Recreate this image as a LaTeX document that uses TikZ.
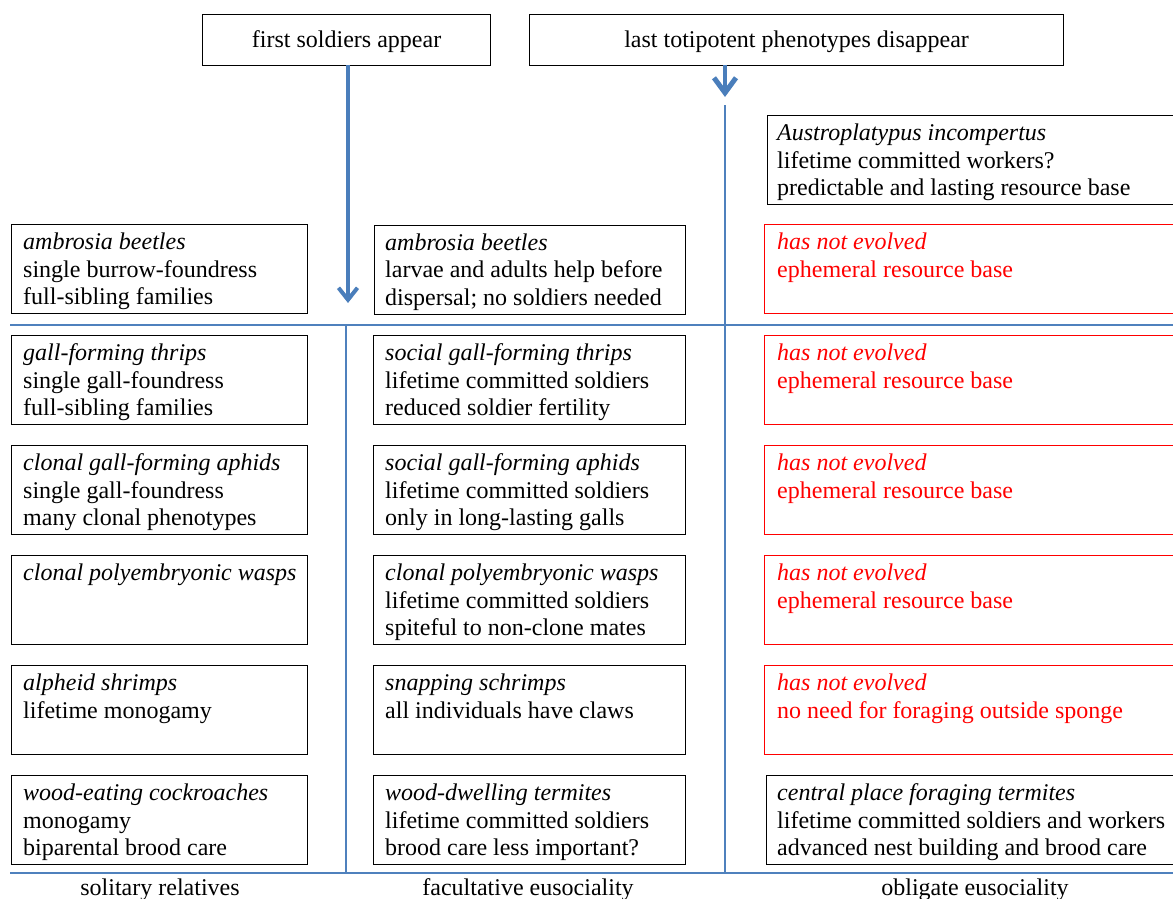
\documentclass[tikz,border=0pt]{standalone}
\usepackage{fontspec}
\setmainfont{Liberation Serif}
\usetikzlibrary{arrows.meta}
\definecolor{ablue}{HTML}{4A7EBB}
\definecolor{lblue}{HTML}{4F81BD}
\begin{document}
\begin{tikzpicture}[x=1pt,y=-1pt,
  bx/.style={draw=black, line width=1.2pt, anchor=north west, inner sep=0pt, minimum height=89pt},
  rbx/.style={bx, draw=red},
  topbx/.style={draw=black, line width=1.2pt, anchor=north west, inner sep=0pt, minimum height=51pt},
  txt/.style={anchor=north west, align=left, inner sep=0pt, font=\fontsize{24}{27.6}\selectfont},
  rtxt/.style={txt, text=red},
  ttxt/.style={inner sep=0pt, font=\fontsize{24}{27.6}\selectfont},
  thin/.style={draw=lblue, line width=1.2pt},
  bigarrow/.style={draw=ablue, line width=3.5pt, -{Straight Barb[length=12pt,width=19pt,line width=4pt]}},
  bigarrowb/.style={draw=ablue, line width=4pt, -{Straight Barb[length=15pt,width=22pt,line width=5pt]}}
]
\useasboundingbox (0,0) rectangle (1173,899);
\clip (0,0) rectangle (1173,899);

% top boxes
\node[topbx, minimum width=288pt] (top1) at (202,14) {};
\node[ttxt] (top1t) at ([yshift=-2pt]top1.center) {first soldiers appear};
\node[topbx, minimum width=534pt] (top2) at (529,14) {};
\node[ttxt] (top2t) at ([yshift=-2pt]top2.center) {last totipotent phenotypes disappear};

% arrows and lines
\coordinate (a1) at (348,303);
\coordinate (a1s) at (348,65);
\coordinate (a2s) at (725,65);
\coordinate (a2) at (725,97);
\coordinate (v2t) at (725,105);
\coordinate (v2b) at (725,873);
\coordinate (v1t) at (346,325);
\coordinate (v1b) at (346,873);
\coordinate (h1l) at (10,325);
\coordinate (h1r) at (1173,325);
\coordinate (h2l) at (10,873);
\coordinate (h2r) at (1173,873);

\draw[bigarrow] (a1s) -- (a1);
\draw[bigarrowb] (a2s) -- (a2);
\draw[thin] (v2t) -- (v2b);
\draw[thin] (v1t) -- (v1b);
\draw[thin] (h1l) -- (h1r);
\draw[thin, line width=2pt] (h2l) -- (h2r);

% Austroplatypus
\node[bx, minimum width=420pt] (aus) at (767,115) {};
\node[txt] (aust) at ([shift={(10,6)}]aus.north west) {\strut\textit{Austroplatypus incompertus}\\lifetime committed workers?\\predictable and lasting resource base};

% row 0
\node[bx, minimum width=296pt] (c1r0) at (11,224) {};
\node[txt] (c1r0t) at ([shift={(12,6)}]c1r0.north west) {\strut\textit{ambrosia beetles}\\single burrow-foundress\\full-sibling families};
\node[bx, minimum width=311pt] (c2r0) at (374,225) {};
\node[txt] (c2r0t) at ([shift={(11,5.5)}]c2r0.north west) {\strut\textit{ambrosia beetles}\\larvae and adults help before\\dispersal; no soldiers needed};
\node[rbx, minimum width=420pt] (c3r0) at (764,224) {};
\node[rtxt] (c3r0t) at ([shift={(13,6)}]c3r0.north west) {\strut\textit{has not evolved}\\ephemeral resource base};

% row 1
\node[bx, minimum width=296pt] (c1r1) at (11,335) {};
\node[txt] (c1r1t) at ([shift={(12,6)}]c1r1.north west) {\strut\textit{gall-forming thrips}\\single gall-foundress\\full-sibling families};
\node[bx, minimum width=312pt] (c2r1) at (373,335) {};
\node[txt] (c2r1t) at ([shift={(12,6)}]c2r1.north west) {\strut\textit{social gall-forming thrips}\\lifetime committed soldiers\\reduced soldier fertility};
\node[rbx, minimum width=420pt] (c3r1) at (764,335) {};
\node[rtxt] (c3r1t) at ([shift={(13,6)}]c3r1.north west) {\strut\textit{has not evolved}\\ephemeral resource base};

% row 2
\node[bx, minimum width=296pt] (c1r2) at (11,445) {};
\node[txt] (c1r2t) at ([shift={(12,6)}]c1r2.north west) {\strut\textit{clonal gall-forming aphids}\\single gall-foundress\\many clonal phenotypes};
\node[bx, minimum width=312pt] (c2r2) at (373,445) {};
\node[txt] (c2r2t) at ([shift={(12,6)}]c2r2.north west) {\strut\textit{social gall-forming aphids}\\lifetime committed soldiers\\only in long-lasting galls};
\node[rbx, minimum width=420pt] (c3r2) at (764,445) {};
\node[rtxt] (c3r2t) at ([shift={(13,6)}]c3r2.north west) {\strut\textit{has not evolved}\\ephemeral resource base};

% row 3
\node[bx, minimum width=296pt] (c1r3) at (11,555) {};
\node[txt] (c1r3t) at ([shift={(12,6)}]c1r3.north west) {\strut\textit{clonal polyembryonic wasps}};
\node[bx, minimum width=312pt] (c2r3) at (373,555) {};
\node[txt] (c2r3t) at ([shift={(12,6)}]c2r3.north west) {\strut\textit{clonal polyembryonic wasps}\\lifetime committed soldiers\\spiteful to non-clone mates};
\node[rbx, minimum width=420pt] (c3r3) at (764,555) {};
\node[rtxt] (c3r3t) at ([shift={(13,6)}]c3r3.north west) {\strut\textit{has not evolved}\\ephemeral resource base};

% row 4
\node[bx, minimum width=296pt] (c1r4) at (11,665) {};
\node[txt] (c1r4t) at ([shift={(12,6)}]c1r4.north west) {\strut\textit{alpheid shrimps}\\lifetime monogamy};
\node[bx, minimum width=312pt] (c2r4) at (373,665) {};
\node[txt] (c2r4t) at ([shift={(12,6)}]c2r4.north west) {\strut\textit{snapping schrimps}\\all individuals have claws};
\node[rbx, minimum width=420pt] (c3r4) at (764,665) {};
\node[rtxt] (c3r4t) at ([shift={(13,6)}]c3r4.north west) {\strut\textit{has not evolved}\\no need for foraging outside sponge};

% row 5
\node[bx, minimum width=296pt] (c1r5) at (11,775) {};
\node[txt] (c1r5t) at ([shift={(12,6)}]c1r5.north west) {\strut\textit{wood-eating cockroaches}\\monogamy\\biparental brood care};
\node[bx, minimum width=312pt] (c2r5) at (373,775) {};
\node[txt] (c2r5t) at ([shift={(12,6)}]c2r5.north west) {\strut\textit{wood-dwelling termites}\\lifetime committed soldiers\\brood care less important?};
\node[bx, minimum width=420pt] (c3r5) at (766,775) {};
\node[txt] (c3r5t) at ([shift={(11,6)}]c3r5.north west) {\strut\textit{central place foraging termites}\\lifetime committed soldiers and workers\\advanced nest building and brood care};

% bottom labels
\node[ttxt, anchor=base] (l1) at (160,895) {solitary relatives};
\node[ttxt, anchor=base] (l2) at (528,895) {facultative eusociality};
\node[ttxt, anchor=base] (l3) at (975,895) {obligate eusociality};
\end{tikzpicture}
\end{document}
